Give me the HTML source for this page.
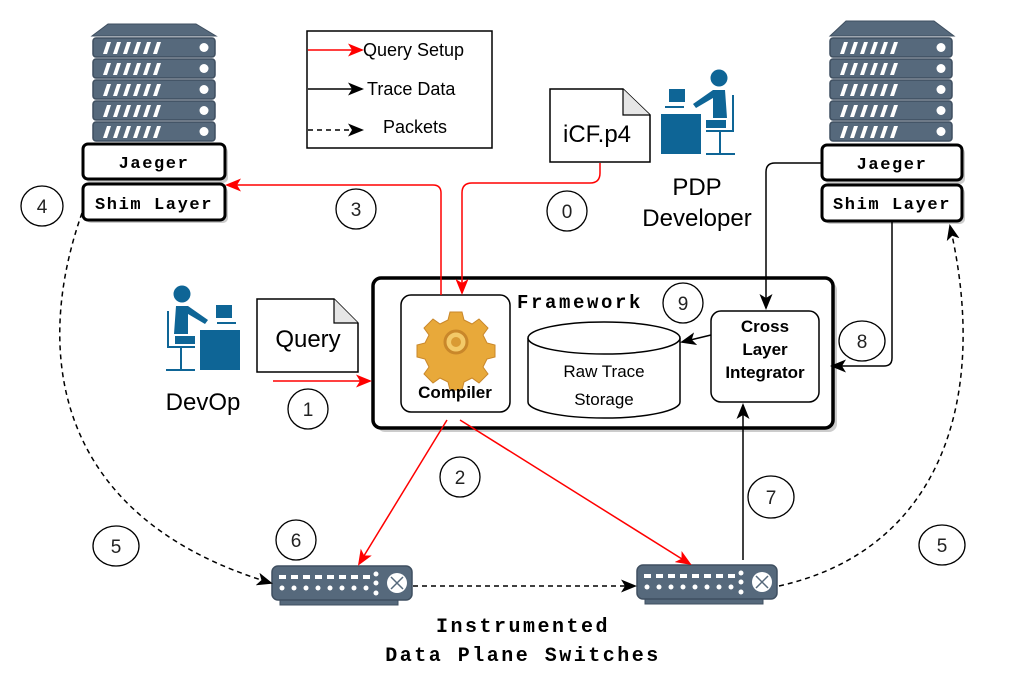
<!DOCTYPE html>
<html><head><meta charset="utf-8"><style>
html,body{margin:0;padding:0;background:#fff;}
svg{display:block;}
.mono{font-family:"Liberation Mono",monospace;font-weight:bold;}
.sans{font-family:"Liberation Sans",sans-serif;}
</style></head><body>
<svg width="1020" height="682" viewBox="0 0 1020 682" xmlns="http://www.w3.org/2000/svg">
<defs>
<marker id="ar" markerWidth="16" markerHeight="13" refX="14" refY="6.5" orient="auto" markerUnits="userSpaceOnUse"><path d="M0,0 L16,6.5 L0,13 L4,6.5 Z" fill="#f00"/></marker>
<marker id="ab" markerWidth="16" markerHeight="13" refX="14" refY="6.5" orient="auto" markerUnits="userSpaceOnUse"><path d="M0,0 L16,6.5 L0,13 L4,6.5 Z" fill="#000"/></marker>
<g id="rack">
<rect x="0" y="0" width="122" height="19" rx="3" fill="#56697c" stroke="#3f4f60" stroke-width="1.5"/>
<path d="M10,16 l4,-12 h4 l-4,12z M20,16 l4,-12 h4 l-4,12z M30,16 l4,-12 h4 l-4,12z M40,16 l4,-12 h4 l-4,12z M50,16 l4,-12 h4 l-4,12z M60,16 l4,-12 h4 l-4,12z" fill="#fff"/>
<circle cx="111" cy="9.5" r="4.5" fill="#fff"/>
</g>
<g id="sw">
<rect x="8" y="30" width="118" height="9" fill="#56697c" stroke="#3f4f60"/>
<rect x="0" y="0" width="140" height="34" rx="6" fill="#56697c" stroke="#3f4f60" stroke-width="1.5"/>
<g fill="#fff">
<rect x="7" y="9" width="7" height="4"/><rect x="19" y="9" width="7" height="4"/><rect x="31" y="9" width="7" height="4"/><rect x="43" y="9" width="7" height="4"/><rect x="55" y="9" width="7" height="4"/><rect x="67" y="9" width="7" height="4"/><rect x="79" y="9" width="7" height="4"/><rect x="91" y="9" width="7" height="4"/>
<circle cx="10" cy="22" r="2.5"/><circle cx="22" cy="22" r="2.5"/><circle cx="34" cy="22" r="2.5"/><circle cx="46" cy="22" r="2.5"/><circle cx="58" cy="22" r="2.5"/><circle cx="70" cy="22" r="2.5"/><circle cx="82" cy="22" r="2.5"/><circle cx="94" cy="22" r="2.5"/>
<circle cx="104" cy="8" r="2.5"/><circle cx="104" cy="17" r="2.5"/><circle cx="104" cy="27" r="2.5"/>
<circle cx="125" cy="17" r="10"/>
</g>
<path d="M119,11 L131,23 M131,11 L119,23" stroke="#56697c" stroke-width="1.5"/>
</g>
<g id="person">
<circle cx="182" cy="294" r="8.5" fill="#0e6596"/>
<path d="M176,306 h12 l20,14 l-3,4 l-17,-10 v20 h-14z" fill="#0e6596"/>
<rect x="175" y="336" width="20" height="8" fill="#0e6596"/>
<path d="M168,311 v36 h27 M181,347 v22 M166,370 h29" stroke="#0e6596" stroke-width="2" fill="none"/>
<rect x="200" y="330" width="40" height="40" fill="#0e6596"/>
<rect x="216" y="305" width="16" height="13" fill="#0e6596"/>
<path d="M217,323 h19" stroke="#0e6596" stroke-width="2"/>
</g>
</defs>

<!-- Left server -->
<path d="M108,24 H196 L216,36 H92 Z" fill="#56697c" stroke="#3f4f60"/>
<use href="#rack" x="93" y="38"/>
<use href="#rack" x="93" y="59"/>
<use href="#rack" x="93" y="80"/>
<use href="#rack" x="93" y="101"/>
<use href="#rack" x="93" y="122"/>
<rect x="86" y="147" width="142" height="36" rx="5" fill="#ccc"/>
<rect x="83" y="144" width="142" height="35" rx="5" fill="#fff" stroke="#000" stroke-width="3"/>
<rect x="86" y="187" width="142" height="36" rx="5" fill="#ccc"/>
<rect x="83" y="184" width="142" height="36" rx="5" fill="#fff" stroke="#000" stroke-width="3"/>
<text x="154" y="168" class="mono" font-size="17" letter-spacing="1.6" text-anchor="middle">Jaeger</text>
<text x="154" y="209" class="mono" font-size="17" letter-spacing="1.6" text-anchor="middle">Shim Layer</text>

<!-- Right server -->
<path d="M846,21 H934 L954,36 H830 Z" fill="#56697c" stroke="#3f4f60"/>
<use href="#rack" x="830" y="38"/>
<use href="#rack" x="830" y="59"/>
<use href="#rack" x="830" y="80"/>
<use href="#rack" x="830" y="101"/>
<use href="#rack" x="830" y="122"/>
<rect x="825" y="148" width="140" height="36" rx="5" fill="#ccc"/>
<rect x="822" y="145" width="140" height="35" rx="5" fill="#fff" stroke="#000" stroke-width="3"/>
<rect x="825" y="188" width="140" height="36" rx="5" fill="#ccc"/>
<rect x="822" y="185" width="140" height="36" rx="5" fill="#fff" stroke="#000" stroke-width="3"/>
<text x="892" y="169" class="mono" font-size="17" letter-spacing="1.6" text-anchor="middle">Jaeger</text>
<text x="892" y="209" class="mono" font-size="17" letter-spacing="1.6" text-anchor="middle">Shim Layer</text>

<!-- Legend -->
<rect x="307" y="31" width="185" height="117" fill="#fff" stroke="#000" stroke-width="1.5"/>
<line x1="308" y1="50" x2="362" y2="50" stroke="#f00" stroke-width="1.5" marker-end="url(#ar)"/>
<line x1="308" y1="89" x2="362" y2="89" stroke="#000" stroke-width="1.5" marker-end="url(#ab)"/>
<line x1="308" y1="130" x2="362" y2="130" stroke="#000" stroke-width="1.5" stroke-dasharray="5,4" marker-end="url(#ab)"/>
<text x="363" y="56" class="sans" font-size="18">Query Setup</text>
<text x="367" y="95" class="sans" font-size="18">Trace Data</text>
<text x="383" y="133" class="sans" font-size="18">Packets</text>

<!-- iCF.p4 doc -->
<path d="M550,89 H623 L650,115 V162 H550 Z" fill="#fff" stroke="#000" stroke-width="1.5"/>
<path d="M623,89 V115 H650" fill="#e6e6e6" stroke="#000" stroke-width="1.2"/>
<text x="597" y="142" class="sans" font-size="24" text-anchor="middle">iCF.p4</text>
<use href="#person" transform="matrix(-1,0,0,1,901,-216)"/>
<text x="697" y="195" class="sans" font-size="24" text-anchor="middle">PDP</text>
<text x="697" y="226" class="sans" font-size="24" text-anchor="middle">Developer</text>

<!-- DevOp -->
<use href="#person"/>
<text x="203" y="410" class="sans" font-size="24" text-anchor="middle">DevOp</text>
<path d="M257,299 H334 L358,323 V372 H257 Z" fill="#fff" stroke="#000" stroke-width="1.5"/>
<path d="M334,299 V323 H358" fill="#e6e6e6" stroke="#000" stroke-width="1.2"/>
<text x="308" y="347" class="sans" font-size="24" text-anchor="middle">Query</text>

<!-- Framework -->
<rect x="377" y="282" width="460" height="150" rx="8" fill="#ccc"/>
<rect x="373" y="278" width="460" height="150" rx="8" fill="#fff" stroke="#000" stroke-width="3.5"/>
<text x="517" y="308" class="mono" font-size="19" letter-spacing="2.6">Framework</text>
<rect x="401" y="295" width="109" height="117" rx="10" fill="#fff" stroke="#000" stroke-width="1.5"/>
<!-- gear -->
<g transform="translate(456,342)">
<path d="M-6,-30 h12 l2,8 l8,4 l7,-5 l9,9 l-5,7 l4,8 l8,2 v12 l-8,2 l-4,8 l5,7 l-9,9 l-7,-5 l-8,4 l-2,8 h-12 l-2,-8 l-8,-4 l-7,5 l-9,-9 l5,-7 l-4,-8 l-8,-2 v-12 l8,-2 l4,-8 l-5,-7 l9,-9 l7,5 l8,-4 z" fill="#e8a93a" stroke="#c9872a"/>
<circle cx="0" cy="0" r="11" fill="#f3c968" stroke="#c9872a" stroke-width="3"/>
<circle cx="0" cy="0" r="5" fill="#d99a34"/>
</g>
<text x="455" y="398" class="sans" font-size="17" font-weight="bold" text-anchor="middle">Compiler</text>
<!-- cylinder -->
<path d="M528,338 V402 A76,16 0 0 0 680,402 V338" fill="#fff" stroke="#000" stroke-width="1.5"/>
<ellipse cx="604" cy="338" rx="76" ry="16" fill="#fff" stroke="#000" stroke-width="1.5"/>
<text x="604" y="377" class="sans" font-size="17" text-anchor="middle">Raw Trace</text>
<text x="604" y="405" class="sans" font-size="17" text-anchor="middle">Storage</text>
<rect x="711" y="311" width="108" height="91" rx="10" fill="#fff" stroke="#000" stroke-width="1.5"/>
<text x="765" y="332" class="sans" font-size="17" font-weight="bold" text-anchor="middle">Cross</text>
<text x="765" y="355" class="sans" font-size="17" font-weight="bold" text-anchor="middle">Layer</text>
<text x="765" y="378" class="sans" font-size="17" font-weight="bold" text-anchor="middle">Integrator</text>
<line x1="711" y1="335" x2="682" y2="342" stroke="#000" stroke-width="1.5" marker-end="url(#ab)"/>

<!-- Switches -->
<use href="#sw" x="272" y="566"/>
<use href="#sw" x="637" y="565"/>
<text x="523" y="632" class="mono" font-size="20" letter-spacing="2.5" text-anchor="middle">Instrumented</text>
<text x="523" y="661" class="mono" font-size="20" letter-spacing="2.5" text-anchor="middle">Data Plane Switches</text>

<!-- Red connectors -->
<path d="M441,295 V193 Q441,185 433,185 H227" fill="none" stroke="#f00" stroke-width="1.5" marker-end="url(#ar)"/>
<path d="M600,163 V173 Q600,183 590,183 H472 Q462,183 462,193 V293" fill="none" stroke="#f00" stroke-width="1.5" marker-end="url(#ar)"/>
<line x1="273" y1="381" x2="370" y2="381" stroke="#f00" stroke-width="1.5" marker-end="url(#ar)"/>
<line x1="447" y1="420" x2="359" y2="564" stroke="#f00" stroke-width="1.5" marker-end="url(#ar)"/>
<line x1="460" y1="420" x2="690" y2="564" stroke="#f00" stroke-width="1.5" marker-end="url(#ar)"/>

<!-- Black connectors -->
<path d="M822,163 H775 Q766,163 766,172 V308" fill="none" stroke="#000" stroke-width="1.5" marker-end="url(#ab)"/>
<path d="M892,221 V358 Q892,366 884,366 H832" fill="none" stroke="#000" stroke-width="1.5" marker-end="url(#ab)"/>
<line x1="743" y1="560" x2="743" y2="405" stroke="#000" stroke-width="1.5" marker-end="url(#ab)"/>

<!-- Dashed -->
<path d="M82,213 C30,360 60,520 271,583" fill="none" stroke="#000" stroke-width="1.5" stroke-dasharray="5,4" marker-end="url(#ab)"/>
<line x1="413" y1="586" x2="635" y2="586" stroke="#000" stroke-width="1.5" stroke-dasharray="5,4" marker-end="url(#ab)"/>
<path d="M779,586 C940,550 990,400 950,226" fill="none" stroke="#000" stroke-width="1.5" stroke-dasharray="5,4" marker-end="url(#ab)"/>

<!-- Numbered circles -->
<g fill="#fff" stroke="#000" stroke-width="1.3">
<ellipse cx="42" cy="206" rx="21" ry="20"/>
<ellipse cx="356" cy="209" rx="20" ry="20"/>
<ellipse cx="567" cy="211" rx="20" ry="20"/>
<ellipse cx="683" cy="303" rx="20" ry="20"/>
<ellipse cx="862" cy="341" rx="23" ry="20"/>
<ellipse cx="308" cy="409" rx="20" ry="20"/>
<ellipse cx="460" cy="477" rx="20" ry="20"/>
<ellipse cx="771" cy="497" rx="23" ry="21"/>
<ellipse cx="116" cy="546" rx="23" ry="20"/>
<ellipse cx="296" cy="540" rx="20" ry="20"/>
<ellipse cx="942" cy="545" rx="23" ry="20"/>
</g>
<g class="sans" font-size="19" text-anchor="middle" fill="#222">
<text x="42" y="213">4</text>
<text x="356" y="216">3</text>
<text x="567" y="218">0</text>
<text x="683" y="310">9</text>
<text x="862" y="348">8</text>
<text x="308" y="416">1</text>
<text x="460" y="484">2</text>
<text x="771" y="504">7</text>
<text x="116" y="553">5</text>
<text x="296" y="547">6</text>
<text x="942" y="552">5</text>
</g>
</svg>
</body></html>
